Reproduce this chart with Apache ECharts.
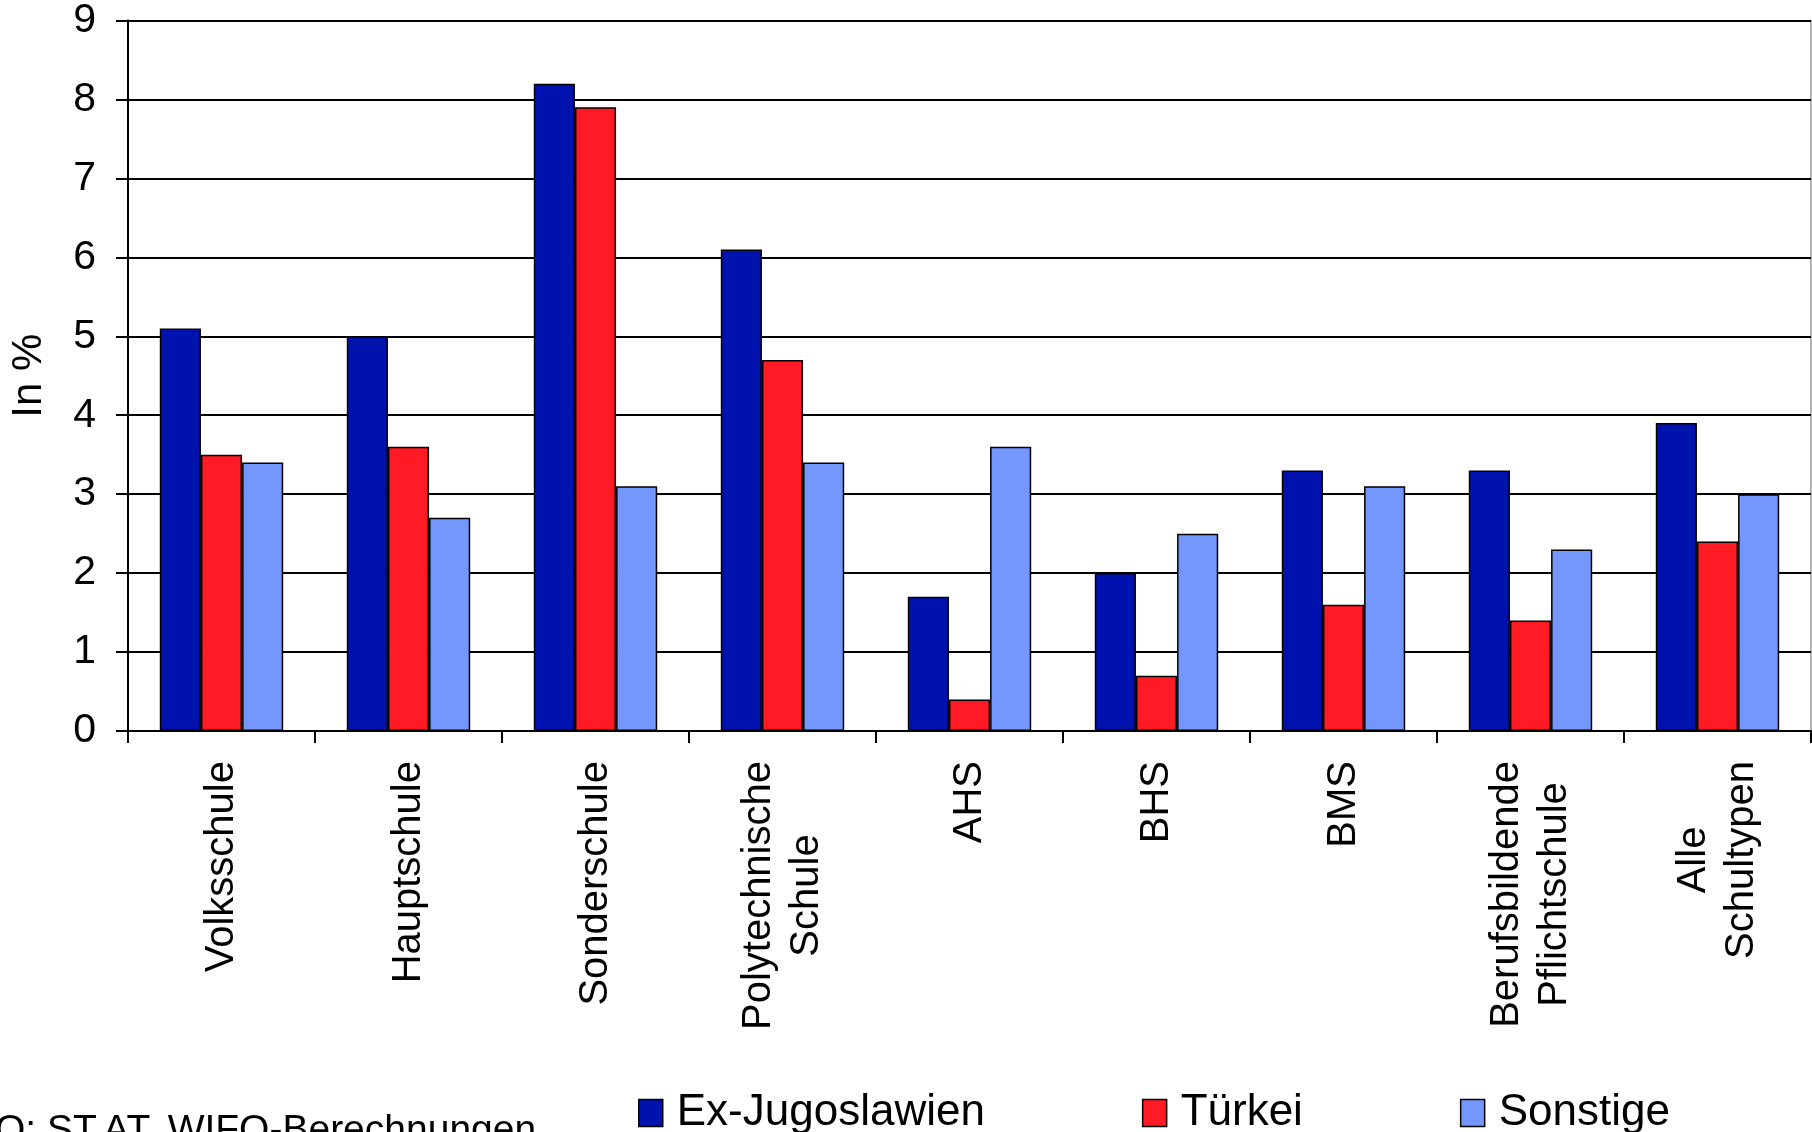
<!DOCTYPE html>
<html><head><meta charset="utf-8">
<script src="https://cdn.jsdelivr.net/npm/echarts@6/dist/echarts.min.js"></script>
<style>html,body{margin:0;padding:0;background:#fff}#c{width:1812px;height:1132px}</style>
</head><body><div id="c"></div>
<script>
const categories = ["Volksschule", "Hauptschule", "Sonderschule", "Polytechnische\nSchule", "AHS", "BHS", "BMS", "Berufsbildende\nPflichtschule", "Alle\nSchultypen"];
const exJugoslawien = [5.1, 5.0, 8.2, 6.1, 1.7, 2.0, 3.3, 3.3, 3.9];
const tuerkei = [3.5, 3.6, 7.9, 4.7, 0.4, 0.7, 1.6, 1.4, 2.4];
const sonstige = [3.4, 2.7, 3.1, 3.4, 3.6, 2.5, 3.1, 2.3, 3.0];
const seriesNames = ["Ex-Jugoslawien", "Türkei", "Sonstige"];
const colors = ["#0012AE", "#FF1A24", "#7396FF"];
const yTicks = {min: 0, max: 9, interval: 1};
const yAxisName = "In %";
const sourceText = "Q: ST.AT, WIFO-Berechnungen";

const FONT = "'Liberation Sans', Arial, sans-serif";
const chart = echarts.init(document.getElementById('c'), null, {renderer: 'canvas'});
const mk = (name, data, i) => ({
  name, type: 'bar', data,
  barGap: '0%', barCategoryGap: '34%',
  itemStyle: {color: colors[i], borderColor: '#000', borderWidth: 1.5},
  emphasis: {disabled: true}
});
chart.setOption({
  animation: false,
  textStyle: {fontFamily: FONT},
  grid: {left: 125, right: 1, top: 20, bottom: 401, containLabel: false},
  legend: {
    data: seriesNames, left: 638, top: 1091, padding: 0, itemWidth: 24, itemHeight: 27, itemGap: 157,
    icon: 'rect',
    itemStyle: {borderColor: '#000', borderWidth: 1.5},
    textStyle: {fontSize: 44, color: '#000', fontFamily: FONT, padding: [0, 0, 0, 9]}
  },
  xAxis: {
    type: 'category', data: categories,
    axisLine: {lineStyle: {color: '#000', width: 2}},
    axisTick: {show: true, length: 12, lineStyle: {color: '#000', width: 2}},
    axisLabel: {
      rotate: 90, margin: 30, fontSize: 40, lineHeight: 48, color: '#000', fontFamily: FONT, interval: 0, align: 'right',
      formatter: v => v.split('\n').map(s => '{c|' + s + '}').join('\n'),
      rich: {c: {align: 'center', fontSize: 40, lineHeight: 48, fontFamily: FONT, color: '#000'}}
    }
  },
  yAxis: {
    type: 'value', min: yTicks.min, max: yTicks.max, interval: yTicks.interval,
    name: yAxisName, nameLocation: 'middle', nameGap: 78, nameRotate: 90,
    nameTextStyle: {fontSize: 42, color: '#000', fontFamily: FONT},
    axisLine: {show: true, lineStyle: {color: '#000', width: 2}},
    axisTick: {show: true, length: 12, lineStyle: {color: '#000', width: 2}},
    axisLabel: {margin: 32, fontSize: 41, color: '#000', fontFamily: FONT},
    splitLine: {show: true, lineStyle: {color: '#000', width: 2}}
  },
  graphic: [
    {type: 'line', shape: {x1: 1811, y1: 20, x2: 1811, y2: 731}, style: {stroke: '#999', lineWidth: 1.5}},
    {type: 'text', left: -5, top: 1112, style: {text: sourceText, fontSize: 39, fill: '#000', fontFamily: FONT}}
  ],
  series: [mk(seriesNames[0], exJugoslawien, 0), mk(seriesNames[1], tuerkei, 1), mk(seriesNames[2], sonstige, 2)]
});
</script></body></html>
